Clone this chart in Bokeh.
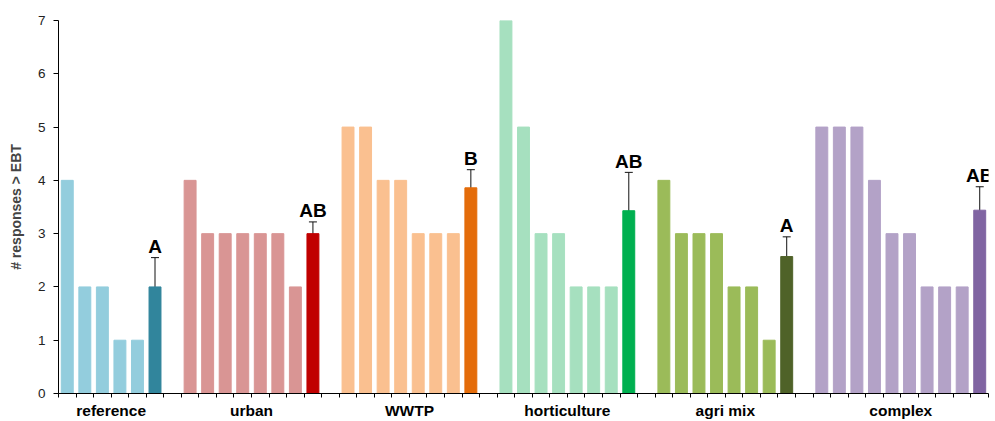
from bokeh.plotting import figure
from bokeh.models import Range1d, FixedTicker, ColumnDataSource, Whisker, TeeHead
from bokeh.embed import file_html
from bokeh.resources import INLINE
from bokeh.core.properties import value

groups = ["reference", "urban", "WWTP", "horticulture", "agri mix", "complex"]
reference_vals = [4, 2, 2, 1, 1]
urban_vals = [4, 3, 3, 3, 3, 3, 2]
wwtp_vals = [5, 5, 4, 4, 3, 3, 3]
horticulture_vals = [7, 5, 3, 3, 2, 2, 2]
agri_vals = [4, 3, 3, 3, 2, 2, 1]
complex_vals = [5, 5, 5, 4, 3, 3, 2, 2, 2]
means = [2.0, 3.0, 3.86, 3.43, 2.57, 3.44]
errors = [0.55, 0.22, 0.34, 0.72, 0.37, 0.44]
letters = ["A", "AB", "B", "AB", "A", "AB"]
y_ticks = [0, 1, 2, 3, 4, 5, 6, 7]

light_colors = ["#93CDDD", "#D99594", "#FAC090", "#A6E0BF", "#9BBB59", "#B3A2C7"]
dark_colors = ["#31859C", "#C00000", "#E46C0A", "#00B050", "#4F6228", "#8064A2"]

group_vals = [reference_vals, urban_vals, wwtp_vals, horticulture_vals, agri_vals, complex_vals]

bx, btop, bcol = [], [], []
mx, mtop, mcol, mlo, mhi = [], [], [], [], []
centers = []
slot = 0
for gi, vals in enumerate(group_vals):
    start = slot
    for v in vals:
        bx.append(slot + 0.5)
        btop.append(v)
        bcol.append(light_colors[gi])
        slot += 1
    mx.append(slot + 0.5)
    mtop.append(means[gi])
    mcol.append(dark_colors[gi])
    mlo.append(means[gi] - errors[gi])
    mhi.append(means[gi] + errors[gi])
    slot += 1
    centers.append((start + slot) / 2)
    if gi < len(group_vals) - 1:
        slot += 1
n_slots = slot

p = figure(width=995, height=421, output_backend="svg", toolbar_location=None,
           x_range=Range1d(0, n_slots), y_range=Range1d(0, 7),
           min_border_left=58, min_border_right=7, min_border_top=20, min_border_bottom=26)
p.outline_line_color = None
p.grid.visible = False

bars = ColumnDataSource(dict(x=bx, top=btop, color=bcol))
p.vbar(x="x", top="top", width=0.68, color="color", source=bars)

msrc = ColumnDataSource(dict(x=mx, top=mtop, color=mcol, lo=mlo, hi=mhi, letter=letters))
p.vbar(x="x", top="top", width=0.68, color="color", source=msrc)
w = Whisker(base="x", upper="hi", lower="lo", source=msrc, line_color="#111111", line_width=1,
            upper_head=TeeHead(size=8, line_color="#111111", line_width=1),
            lower_head=TeeHead(size=8, line_color="#111111", line_width=1))
p.add_layout(w)
p.text(x="x", y="hi", text="letter", source=msrc, text_align="center", text_baseline="alphabetic",
       y_offset=-11, text_font=value("Liberation Sans"), text_font_style="bold",
       text_font_size="19px", text_color="#000000")

xa = p.xaxis[0]
xa.ticker = FixedTicker(ticks=centers, minor_ticks=list(range(0, n_slots + 1)))
xa.major_label_overrides = {c: g for c, g in zip(centers, groups)}
xa.major_tick_out = 0
xa.major_tick_in = 0
xa.minor_tick_out = 4
xa.minor_tick_in = 0
xa.minor_tick_line_color = "#000000"
xa.axis_line_color = "#000000"
xa.major_label_standoff = 4
xa.major_label_text_font = "Liberation Sans"
xa.major_label_text_font_style = "bold"
xa.major_label_text_font_size = "15.5px"
xa.major_label_text_color = "#000000"

ya = p.yaxis[0]
ya.ticker = FixedTicker(ticks=y_ticks)
ya.minor_tick_line_color = None
ya.major_tick_out = 5
ya.major_tick_in = 0
ya.major_tick_line_color = "#000000"
ya.axis_line_color = "#000000"
ya.major_label_standoff = 8
ya.major_label_text_font = "Liberation Sans"
ya.major_label_text_font_size = "13.5px"
ya.major_label_text_color = "#222222"
ya.axis_label = "# responses > EBT"
ya.axis_label_text_font = "Liberation Sans"
ya.axis_label_text_font_style = "bold"
ya.axis_label_text_font_size = "14px"
ya.axis_label_standoff = 11

open("out.html", "w").write(file_html(p, INLINE))
